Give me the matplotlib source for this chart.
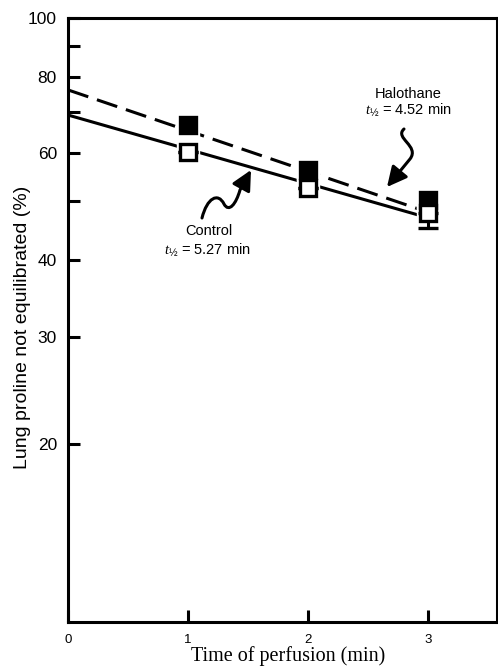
import matplotlib
matplotlib.use("Agg")
import matplotlib.pyplot as plt
from matplotlib.patches import FancyArrowPatch
from matplotlib.path import Path
from matplotlib.ticker import FixedLocator, NullLocator

# data
times = [1, 2, 3]
halothane = [66.8, 56.4, 50.3]
control = [60.3, 52.6, 47.8]
control_err_low = [0.0, 0.0, 2.5]

fit_x = [0, 3]
halothane_fit = [76.2, 48.0]
control_fit = [69.3, 47.0]

y_ticks = [20, 30, 40, 50, 60, 70, 80, 90, 100]
y_tick_labels = ["20", "30", "40", "", "60", "", "80", "", "100"]
x_ticks = [0, 1, 2, 3]

plt.rcParams["font.family"] = ["Liberation Sans", "DejaVu Sans"]
plt.rcParams["mathtext.fontset"] = "custom"
plt.rcParams["mathtext.it"] = "Liberation Serif:italic"
plt.rcParams["mathtext.rm"] = "Liberation Sans"

W, H = 498, 672
fig = plt.figure(figsize=(W / 100, H / 100), dpi=100)
ax = fig.add_axes([68 / W, 50 / H, 429 / W, 604 / H])

ax.set_yscale("log")
ax.set_xlim(0, 3.575)
ax.set_ylim(10.2, 100)

# fitted lines
ax.plot(fit_x, halothane_fit, color="black", lw=2.2, ls=(0, (7, 3)), zorder=2)
ax.plot(fit_x, control_fit, color="black", lw=2.2, zorder=2)

# white halo so lines break around the symbols
ax.plot(times, halothane, ls="none", marker="s", ms=16, color="white", zorder=3)
ax.plot(times, control, ls="none", marker="s", ms=16, color="white", zorder=3)

ax.errorbar(times, control, yerr=[control_err_low, [0, 0, 0]], fmt="none",
            ecolor="black", elinewidth=2.2, capsize=7, capthick=2.4, zorder=4)
ax.plot(times, halothane, ls="none", marker="s", ms=11.5, mew=2.4,
        mfc="black", mec="black", zorder=5)
ax.plot(times, control, ls="none", marker="s", ms=11.5, mew=2.4,
        mfc="white", mec="black", zorder=6)

for s in ax.spines.values():
    s.set_linewidth(2.2)

ax.yaxis.set_major_locator(FixedLocator(y_ticks))
ax.yaxis.set_minor_locator(NullLocator())
ax.set_yticklabels(y_tick_labels)
ax.set_xticks(x_ticks)
ax.set_xticklabels([str(t) for t in x_ticks])
ax.tick_params(axis="y", direction="in", length=8.5, width=2.2, pad=8,
               labelsize=12.5)
ax.tick_params(axis="x", direction="in", length=9, width=2.2, pad=8.5,
               labelsize=9.5)

ax.set_xlabel("Time of perfusion (min)", family="Liberation Serif",
              fontsize=14.5)
ax.xaxis.set_label_coords(0.513, -0.04)
ax.set_ylabel("Lung proline not equilibrated (%)", fontsize=14)
ax.yaxis.set_label_coords(-0.086, 0.487)


def px(x, y):
    return (x / W, 1 - y / H)


fig.text(*px(408, 94), "Halothane", ha="center", va="center", fontsize=10.5)
fig.text(*px(408, 110), r"$t_{½}$ = 4.52 min", ha="center",
         va="center", fontsize=10.5)
fig.text(*px(209, 231), "Control", ha="center", va="center", fontsize=10.5)
fig.text(*px(207, 250), r"$t_{½}$ = 5.27 min", ha="center",
         va="center", fontsize=10.5)

# squiggly arrows
hal_path = Path(
    [px(404, 129), px(394, 138), px(420, 146), px(410, 159), px(387, 187)],
    [Path.MOVETO, Path.CURVE4, Path.CURVE4, Path.CURVE4, Path.LINETO])
ctl_path = Path(
    [px(202, 218), px(207, 198), px(218, 192), px(224, 204),
     px(229, 213), px(236, 204), px(240, 190), px(251, 170)],
    [Path.MOVETO, Path.CURVE4, Path.CURVE4, Path.CURVE4,
     Path.CURVE4, Path.CURVE4, Path.CURVE4, Path.LINETO])
for p in (hal_path, ctl_path):
    arr = FancyArrowPatch(path=p, arrowstyle="-|>,head_length=0.8,head_width=0.4",
                          mutation_scale=15, lw=2.2, color="black",
                          transform=fig.transFigure)
    fig.add_artist(arr)

fig.savefig("out.png", dpi=100)
